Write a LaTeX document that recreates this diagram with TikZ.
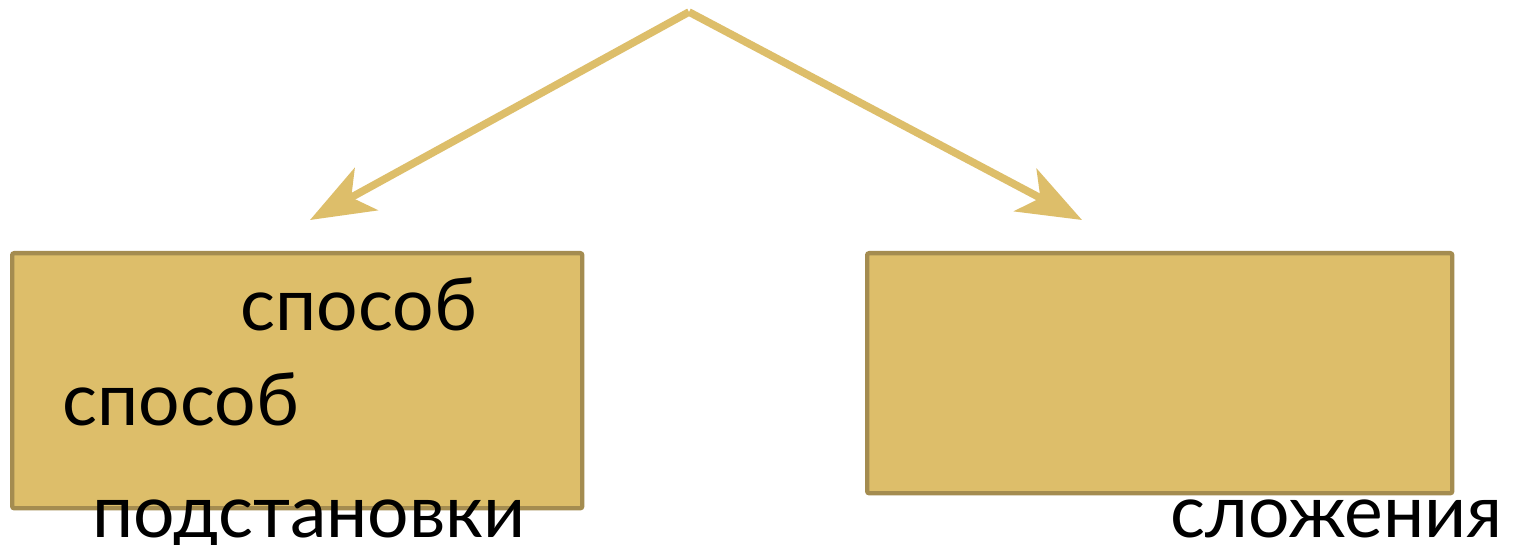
\documentclass[tikz,border=0pt]{standalone}
\usepackage{fontspec}
\setmainfont{Lato}
\usetikzlibrary{arrows.meta}
\definecolor{gold}{HTML}{DDBE6A}
\definecolor{goldedge}{HTML}{A48C50}
\tikzset{
  box/.style={draw=goldedge, fill=gold, line width=2.2pt, rounded corners=1pt},
  arr/.style={draw=gold, line width=3.8pt, -{Stealth[length=32pt,width=24pt,inset=8.5pt]}},
  lbl/.style={anchor=base west, inner sep=0pt, font=\fontsize{36.6}{44}\selectfont}
}
\begin{document}
\begin{tikzpicture}[x=0.5pt,y=-0.5pt]
\useasboundingbox[fill=white] (0,0) rectangle (1516,545);
\node[box, minimum width=570*0.5pt, minimum height=255*0.5pt, anchor=north west] (b1) at (10,251) {};
\node[box, minimum width=585*0.5pt, minimum height=240*0.5pt, anchor=north west] (b2) at (865,251) {};
\coordinate (top) at (689,12);
\coordinate (t1) at (310,220);
\coordinate (t2) at (1082,220);
\draw[arr] (top) -- (t1);
\draw[arr] (top) -- (t2);
\node[lbl] (s1) at (240,330) {способ};
\node[lbl] (s2) at (62,425) {способ};
\node[lbl] (p) at (92,537) {подстановки};
\node[lbl] (sl) at (1170,537) {сложения};
\end{tikzpicture}
\end{document}
